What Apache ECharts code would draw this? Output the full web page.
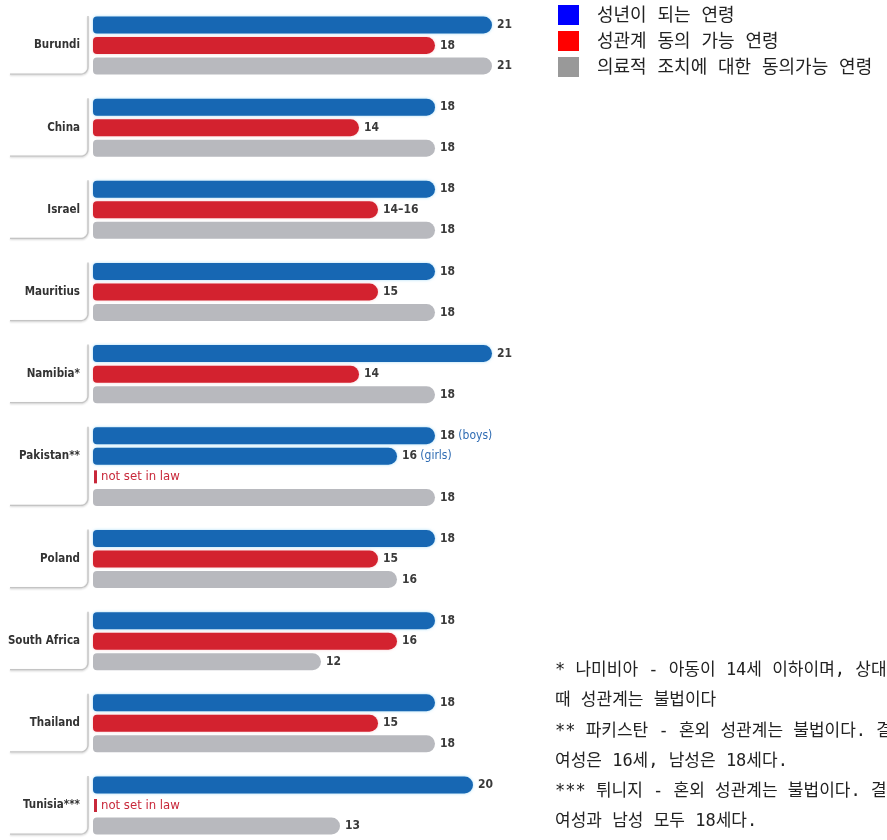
<!DOCTYPE html>
<html>
<head>
<meta charset="utf-8">
<script src="https://cdn.jsdelivr.net/npm/echarts@6/dist/echarts.min.js"></script>
<style>
  html, body { margin: 0; padding: 0; background: #ffffff; }
  #chart { width: 887px; height: 840px; }
</style>
</head>
<body>
<div id="chart"></div>
<script>
// Legal ages by country
const countries = ['Burundi', 'China', 'Israel', 'Mauritius', 'Namibia*', 'Pakistan**', 'Poland', 'South Africa', 'Thailand', 'Tunisia***'];
// age of majority (Pakistan: boys; girls listed separately)
const ageOfMajority = [21, 18, 18, 18, 21, 18, 18, 18, 18, 20];
const ageOfMajorityGirls = [null, null, null, null, null, 16, null, null, null, null];
// age of consent to sex (null = not set in law)
const ageOfSexualConsent = [18, 14, 15, 15, 14, null, 15, 16, 15, null];
const sexualConsentText = [null, null, '14–16', null, null, null, null, null, null, null];
// age of consent to medical treatment
const ageOfMedicalConsent = [21, 18, 18, 18, 18, 18, 16, 12, 18, 13];

const seriesNames = ['성년이 되는 연령', '성관계 동의 가능 연령', '의료적 조치에 대한 동의가능 연령'];
const legendColors = ['#0000ff', '#ff0000', '#999999'];
const barColors = ['#1767b3', '#d3222f', '#b8b9be'];

const footnotes = [
  '* 나미비아 - 아동이 14세 이하이며, 상대방이 3세 이상 연상일',
  '때 성관계는 불법이다',
  '** 파키스탄 - 혼외 성관계는 불법이다. 결혼 가능 연령은',
  '여성은 16세, 남성은 18세다.',
  '*** 튀니지 - 혼외 성관계는 불법이다. 결혼 가능 연령은',
  '여성과 남성 모두 18세다.'
];

const COND = "'DejaVu Sans Condensed', 'Liberation Sans Narrow', sans-serif";
// wide word spaces come from the mono face, Hangul from Noto Sans CJK KR
const KR = "'DejaVu Sans Mono', 'Noto Sans CJK KR', sans-serif";
const RED_TEXT = '#c8283a';

// one row per bar, with an empty row between countries
const rows = [];
countries.forEach((c, i) => {
  const g = [];
  const girls = ageOfMajorityGirls[i];
  g.push({ kind: 0, value: ageOfMajority[i], note: girls != null ? 'boys' : null });
  if (girls != null) g.push({ kind: 0, value: girls, note: 'girls' });
  g.push({ kind: 1, value: ageOfSexualConsent[i], text: sexualConsentText[i] });
  g.push({ kind: 2, value: ageOfMedicalConsent[i] });
  g.forEach((r, j) => rows.push(Object.assign(r, { group: i, country: j === 1 ? c : '' })));
  if (i < countries.length - 1) rows.push({ kind: -1, group: -1, country: '' });
});
const rowKeys = rows.map((r, k) => 'row' + k);

const shadowColors = ['rgba(90,190,240,0.55)', 'rgba(235,130,140,0.4)', 'rgba(0,0,0,0)'];

function seriesFor(kind) {
  return {
    name: seriesNames[kind],
    type: 'bar',
    barWidth: 17,
    barGap: '-100%',
    itemStyle: {
      color: barColors[kind],
      borderRadius: [4, 8.5, 8.5, 4],
      shadowBlur: 3,
      shadowColor: shadowColors[kind]
    },
    label: {
      show: true,
      position: 'right',
      distance: 5,
      formatter: p => {
        const r = rows[p.dataIndex];
        if (r.kind === 1 && r.value == null) return '{tick| }{ns|not set in law}';
        if (r.note) return '{v|' + r.value + '} {n|(' + r.note + ')}';
        return '{v|' + (r.text || r.value) + '}';
      },
      rich: {
        v: { fontFamily: COND, fontSize: 12, fontWeight: 'bold', color: '#3a3a3a' },
        n: { fontFamily: COND, fontSize: 12, color: '#2f6cb3' },
        tick: { width: 3, height: 13, backgroundColor: RED_TEXT },
        ns: { fontFamily: COND, fontSize: 13, color: RED_TEXT, padding: [0, 0, 0, 4] }
      }
    },
    emphasis: { disabled: true },
    data: rows.map(r => {
      if (r.kind !== kind) return '-';
      if (r.value == null) return { value: 0, label: { distance: 1 } };
      return r.value;
    })
  };
}

const chart = echarts.init(document.getElementById('chart'));

const option = {
  animation: false,
  backgroundColor: '#ffffff',
  grid: { left: 93, right: 34, top: 14.7, bottom: 3.7, containLabel: false },
  xAxis: { type: 'value', min: 0, max: 40, show: false },
  yAxis: {
    type: 'category',
    inverse: true,
    data: rowKeys,
    axisLine: { show: false },
    axisTick: { show: false },
    axisLabel: {
      interval: 0,
      margin: 13,
      fontFamily: COND,
      fontSize: 11.5,
      fontWeight: 'bold',
      color: '#333333',
      padding: [0, 0, 3, 0],
      formatter: (v, idx) => rows[idx].country
    }
  },
  series: [seriesFor(0), seriesFor(1), seriesFor(2)]
};
chart.setOption(option);

const graphics = [];

// legend
seriesNames.forEach((n, i) => {
  graphics.push({
    type: 'rect', silent: true,
    shape: { x: 558, y: 5 + i * 26, width: 21, height: 20 },
    style: { fill: legendColors[i] }
  });
  graphics.push({
    type: 'text', silent: true,
    x: 597, y: 16.5 + i * 26,
    style: { text: n, x: 0, y: 0, fontFamily: KR, fontSize: 18, fill: '#222222', align: 'left', verticalAlign: 'middle' }
  });
});

// country brackets
const x0 = chart.convertToPixel({ xAxisIndex: 0 }, 0);
countries.forEach((c, i) => {
  const idx = [];
  rows.forEach((r, k) => { if (r.group === i) idx.push(k); });
  const yTop = chart.convertToPixel({ yAxisIndex: 0 }, rowKeys[idx[0]]) - 9;
  const yBot = chart.convertToPixel({ yAxisIndex: 0 }, rowKeys[idx[idx.length - 1]]) + 8;
  const x = x0 - 5;
  const r = 7;
  const pts = [[x, yTop]];
  for (let s = 0; s <= 8; s++) {
    const a = (s / 8) * Math.PI / 2;
    pts.push([x - r + r * Math.cos(a), yBot - r + r * Math.sin(a)]);
  }
  pts.push([10, yBot]);
  graphics.push({
    type: 'polyline',
    silent: true,
    shape: { points: pts },
    style: {
      fill: null,
      stroke: '#c4c4c4',
      lineWidth: 1.3,
      shadowBlur: 2,
      shadowOffsetY: 1,
      shadowColor: 'rgba(0,0,0,0.2)'
    }
  });
});

// footnotes
footnotes.forEach((t, i) => {
  graphics.push({
    type: 'text', silent: true,
    x: 555, y: 670.7 + i * 30.2,
    style: { text: t, x: 0, y: 0, fontFamily: KR, fontSize: 17, fill: '#222222', align: 'left', verticalAlign: 'middle' }
  });
});

chart.setOption({ graphic: graphics });
</script>
</body>
</html>
